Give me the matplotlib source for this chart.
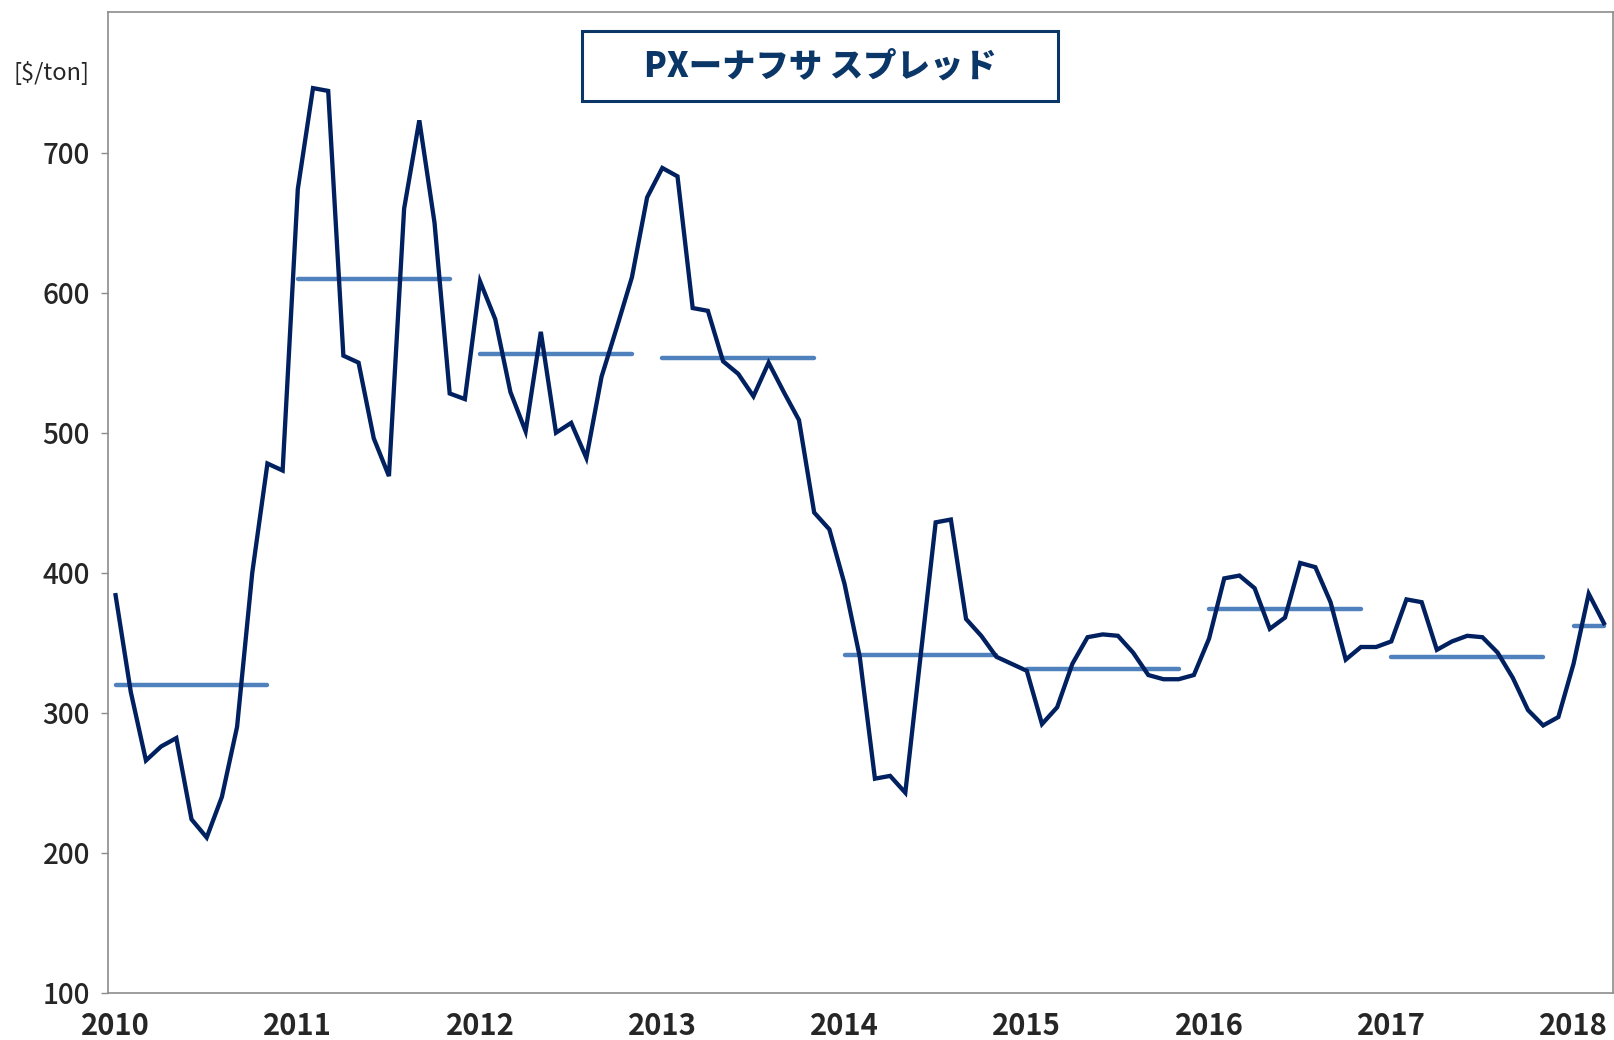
#!/usr/bin/env python3

import numpy as np
import matplotlib
matplotlib.use('Agg')
import matplotlib.pyplot as plt
from matplotlib.patches import Rectangle

plt.rcParams['font.family'] = ['Noto Sans CJK JP', 'DejaVu Sans']

# monthly PX - naphtha spread, Jan 2010 .. Mar 2018 [$/ton]
spread = [
    384, 315, 266, 276, 282, 224, 211, 240, 290, 400, 478, 473,   # 2010
    674, 746, 744, 555, 550, 496, 469, 660, 723, 650, 528, 524,   # 2011
    608, 581, 529, 501, 572, 500, 507, 482, 540, 575, 611, 668,   # 2012
    689, 683, 589, 587, 551, 542, 526, 550, 529, 509, 443, 431,   # 2013
    392, 340, 253, 255, 243, 340, 436, 438, 367, 355, 340, 335,   # 2014
    330, 292, 304, 335, 354, 356, 355, 343, 327, 324, 324, 327,   # 2015
    353, 396, 398, 389, 360, 368, 407, 404, 379, 338, 347, 347,   # 2016
    351, 381, 379, 345, 351, 355, 354, 343, 325, 302, 291, 297,   # 2017
    335, 385, 364,                                                # 2018
]
years = [2010, 2011, 2012, 2013, 2014, 2015, 2016, 2017, 2018]
# yearly average lines
year_avg = [320, 610, 556, 553, 341, 331, 374, 340, 362]
yticks = [100, 200, 300, 400, 500, 600, 700]
title = 'PXーナフサ スプレッド'
unit = '[$/ton]'

NAVY = '#002060'
AVG_BLUE = '#4F81BD'
TITLE_COL = '#0B3668'
GRID_GRAY = '#8C8C8C'

fig = plt.figure(figsize=(16.14, 10.40), dpi=100)
ax = fig.add_axes([0.0669, 0.0452, 0.9325, 0.9428])

x = np.arange(len(spread))
ax.plot(x, spread, color=NAVY, lw=3.1, solid_joinstyle='miter', zorder=3)

n = len(spread)
for i, v in enumerate(year_avg):
    x0 = i * 12
    x1 = min(x0 + 10, n - 1)
    ax.plot([x0, x1], [v, v], color=AVG_BLUE, lw=3.2, solid_capstyle='round', zorder=2)

ax.set_xlim(-0.5, 98.6)
ax.set_ylim(100, 800)
ax.set_yticks(yticks)
ax.set_yticklabels([str(t) for t in yticks], fontsize=20, fontweight='medium', color='#262626')
ax.set_xticks([i * 12 for i in range(len(years))])
ax.set_xticklabels([str(y) for y in years], fontsize=21, fontweight='bold', color='#262626')
ax.tick_params(axis='y', length=5, width=1, color=GRID_GRAY, pad=8)
ax.tick_params(axis='x', length=0, pad=13)

for s in ax.spines.values():
    s.set_color(GRID_GRAY)
    s.set_linewidth(1.2)

fig.text(52 / 1614, 1 - 73 / 1040, unit, fontsize=17, color='#262626', ha='center', va='center')

# title box
box = Rectangle((581.7 / 1614, 1 - 100.7 / 1040), 476.6 / 1614, 70 / 1040,
                transform=fig.transFigure, fill=True, facecolor='white',
                edgecolor=TITLE_COL, lw=2.2, zorder=5)
fig.patches.append(box)
fig.text(820 / 1614, 1 - 65.7 / 1040, title, fontsize=24, fontweight='heavy',
         color=TITLE_COL, ha='center', va='center', zorder=6)

fig.savefig('out.png', dpi=100)
